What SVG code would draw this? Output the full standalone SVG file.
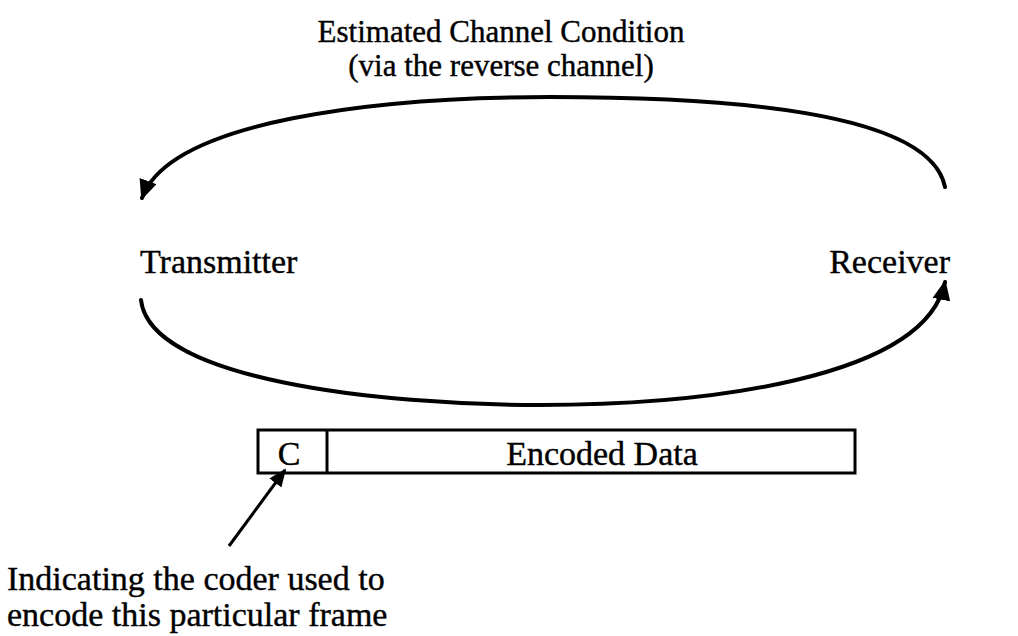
<svg xmlns="http://www.w3.org/2000/svg" width="1018" height="636" viewBox="0 0 1018 636">
  <defs>
    <style>
      .lbl { font-family: "Liberation Serif", "Times New Roman", serif; font-size: 34px; fill: #000; stroke: #000; stroke-width: 0.4; }
      .title { font-size: 31px; }
      .mid { text-anchor: middle; }
      .end { text-anchor: end; }
      .arc { fill: none; stroke: #000; stroke-width: 4; stroke-linecap: round; }
      .frame { fill: #fff; stroke: #000; stroke-width: 3; }
    </style>
    <marker id="head" viewBox="0 0 10 10" refX="9" refY="5" markerWidth="5" markerHeight="4.5" markerUnits="strokeWidth" orient="auto" preserveAspectRatio="none">
      <path d="M0,0 L10,5 L0,10 Z" fill="#000"/>
    </marker>
    <marker id="headThin" viewBox="0 0 10 10" refX="9" refY="5" markerWidth="6" markerHeight="5" markerUnits="strokeWidth" orient="auto" preserveAspectRatio="none">
      <path d="M0,0 L10,5 L0,10 Z" fill="#000"/>
    </marker>
  </defs>
  <rect width="1018" height="636" fill="#fff"/>

  <text class="lbl title mid" x="501" y="42">Estimated Channel Condition</text>
  <text class="lbl title mid" x="501" y="76">(via the reverse channel)</text>

  <g id="transmitter">
    <text class="lbl" x="140" y="273">Transmitter</text>
  </g>
  <g id="receiver">
    <text class="lbl end" x="950" y="273">Receiver</text>
  </g>

  <g id="frame">
    <rect class="frame" x="258" y="430" width="597" height="43"/>
    <line x1="327" y1="430" x2="327" y2="473" stroke="#000" stroke-width="3"/>
    <text class="lbl mid" x="289" y="465">C</text>
    <text class="lbl mid" x="602" y="465">Encoded Data</text>
  </g>

  <g id="note">
    <text class="lbl" x="7" y="590">Indicating the coder used to</text>
    <text class="lbl" x="7" y="626">encode this particular frame</text>
  </g>

  <g id="connectors">
    <path class="arc" d="M945,187 C930,110 720,97 550,97 C380,97 170,120 142,198" marker-end="url(#head)"/>
    <path class="arc" d="M141,300 C150,380 380,405 540,405 C700,405 925,380 945,282" marker-end="url(#head)"/>
    <line x1="229" y1="546" x2="285" y2="470" stroke="#000" stroke-width="3" marker-end="url(#headThin)"/>
  </g>
</svg>
